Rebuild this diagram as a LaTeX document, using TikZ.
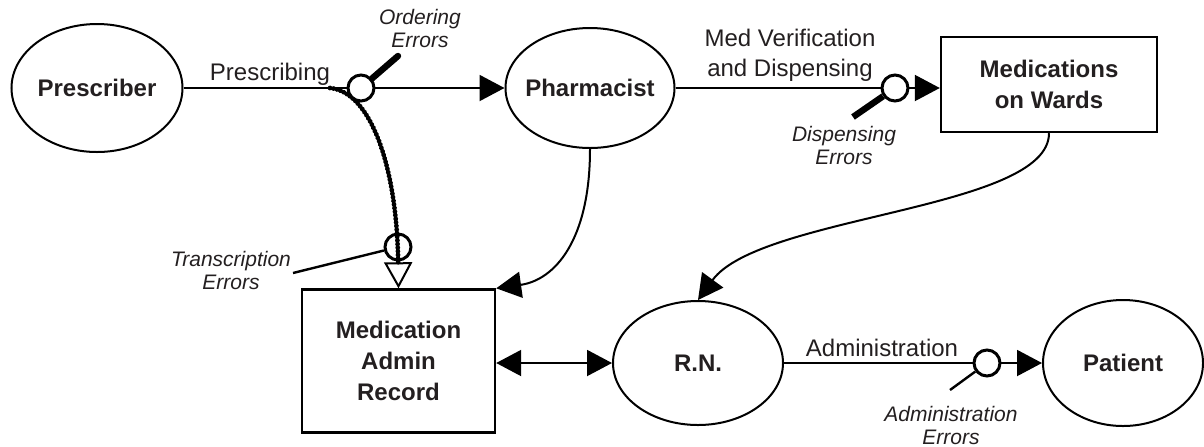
\documentclass[tikz,border=0pt]{standalone}
\usepackage{fontspec}
\setmainfont{Liberation Sans}
\usetikzlibrary{shapes.geometric,arrows.meta}
\definecolor{ink}{RGB}{35,31,32}

\begin{document}
\begin{tikzpicture}[x=0.5pt, y=-0.5pt,
    actor/.style={ellipse, draw, line width=1pt, inner sep=0pt, text=ink, font=\fontsize{12}{15.5}\selectfont\bfseries},
    store/.style={rectangle, draw, line width=1.2pt, inner sep=0pt, align=center, text=ink, font=\fontsize{12}{15.5}\selectfont\bfseries},
    flow/.style={line width=1pt, -{Triangle[length=12.5pt, width=13pt]}},
    errmark/.style={circle, draw, line width=1.5pt, fill=white, minimum size=13pt, inner sep=0pt},
    errtext/.style={text=ink, align=center, font=\fontsize{10.5}{11.5}\selectfont\itshape},
    steptext/.style={text=ink, align=center, font=\fontsize{12}{15}\selectfont}]
    \useasboundingbox (0,0) rectangle (1204,446);

    % People (ellipses)
    \node[actor, minimum width=85.5pt, minimum height=64pt] (presc) at (97,88) {Prescriber};
    \node[actor, minimum width=84.5pt, minimum height=60pt, inner xsep=-3pt] (pharm) at (590,88) {Pharmacist};
    \node[actor, minimum width=85pt, minimum height=62pt] (rn) at (698,363) {R.N.};
    \node[actor, minimum width=80pt, minimum height=63pt] (patient) at (1123,363) {Patient};

    % Stores (boxes)
    \node[store, minimum width=108pt, minimum height=47.5pt] (wards) at (1049,84.5) {Medications\\on Wards};
    \node[store, minimum width=96.5pt, minimum height=71.5pt] (mar) at (398.5,361) {Medication\\Admin\\Record};

    % Process steps
    \node[steptext] (prescribing) at (270,74) {Prescribing};
    \node[steptext] (verif) at (790,55) {Med Verification\\and Dispensing};
    \node[steptext] (admin) at (882,348) {Administration};

    % Flows
    \draw[flow] (presc) -- (pharm);
    \draw[flow] (pharm.east) -- (wards.west |- pharm.east);
    \draw[flow] (rn) -- (patient);
    \draw[line width=1pt, {Triangle[length=12.5pt, width=13pt]}-{Triangle[length=12.5pt, width=13pt]}] (mar.east |- rn.west) -- (rn.west);
    \draw[flow] (pharm.south) .. controls (590,240) and (555,280) .. (mar.north east);
    \draw[flow] (wards.south) .. controls (1049,210) and (760,215) .. (rn.north);

    % Transcription (dotted)
    \coordinate (tstart) at (330,88);
    \draw[line width=2.4pt, line cap=round, dash pattern=on 0.01pt off 1.8pt, -{Triangle[open, length=13pt, width=14pt, line width=1pt]}] (tstart) .. controls (372,92) and (397,170) .. (mar.north);

    % Error points
    \node[errmark] (ordc) at (361,88) {};
    \node[errmark] (dispc) at (895,88) {};
    \node[errmark, fill=none] (transc) at (398,247) {};
    \node[errmark] (adminc) at (987,363) {};

    % Error labels
    \node[errtext] (ordt) at (420,28.5) {Ordering\\Errors};
    \node[errtext] (dispt) at (844,145) {Dispensing\\Errors};
    \node[errtext] (transt) at (231,270) {Transcription\\Errors};
    \node[errtext] (admint) at (951,425) {Administration\\Errors};

    % Pointers from error points
    \coordinate (ordk) at (398,56);
    \draw[line width=3.2pt, line cap=round] (ordc) -- (ordk);
    \coordinate (dispk) at (853,117);
    \draw[line width=3.2pt] (dispc) -- (dispk);
    \coordinate (transk) at (293,273);
    \draw[line width=1.2pt] (transc) -- (transk);
    \coordinate (admink) at (950,390);
    \draw[line width=1.2pt] (adminc) -- (admink);

\end{tikzpicture}
\end{document}
